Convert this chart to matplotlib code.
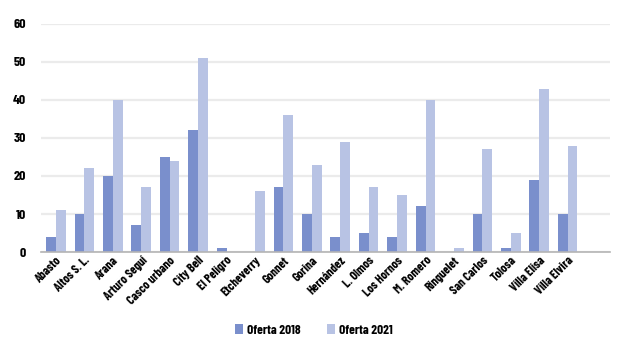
import matplotlib
matplotlib.use("Agg")
import matplotlib.pyplot as plt
import numpy as np

categories = ["Abasto", "Altos S. L.", "Arana", "Arturo Seguí", "Casco urbano", "City Bell",
              "El Peligro", "Etcheverry", "Gonnet", "Gorina", "Hernández", "L. Olmos",
              "Los Hornos", "M. Romero", "Ringuelet", "San Carlos", "Tolosa", "Villa Elisa",
              "Villa Elvira"]
oferta_2018 = [4, 10, 20, 7, 25, 32, 1, 0, 17, 10, 4, 5, 4, 12, 0, 10, 1, 19, 10]
oferta_2021 = [11, 22, 40, 17, 24, 51, 0, 16, 36, 23, 29, 17, 15, 40, 1, 27, 5, 43, 28]
yticks = [0, 10, 20, 30, 40, 50, 60]

plt.rcParams["font.family"] = ["Barlow Condensed", "DejaVu Sans"]
plt.rcParams["font.weight"] = 700

c2018 = "#7a8fcc"
c2021 = "#b8c3e4"

fig = plt.figure(figsize=(6.24, 3.52), dpi=100)
ax = fig.add_axes([0.066, 0.284, 0.912, 0.648])

x = np.arange(len(categories))
w = 0.345
ax.bar(x - w / 2, oferta_2018, width=w, color=c2018, label="Oferta 2018", zorder=3)
ax.bar(x + w / 2, oferta_2021, width=w, color=c2021, label="Oferta 2021", zorder=3)

ax.set_xlim(-0.52, 19.5)
ax.set_ylim(0, 60)
ax.set_yticks(yticks)
ax.set_yticklabels([str(v) for v in yticks], fontsize=10, fontweight=700)
ax.yaxis.grid(True, color="#ebebeb", linewidth=1.6, zorder=0)
ax.set_axisbelow(True)
ax.tick_params(axis="y", length=0, pad=11)
ax.tick_params(axis="x", length=0, pad=2)
ax.set_xticks(x)
ax.set_xticklabels(categories, rotation=45, ha="right", rotation_mode="anchor",
                   fontsize=9, fontweight=700)
for s in ["top", "right", "left"]:
    ax.spines[s].set_visible(False)
ax.spines["bottom"].set_color("#b4b4b4")
ax.spines["bottom"].set_linewidth(1.2)
ax.spines["bottom"].set_zorder(4)

fig.legend(loc="center", bbox_to_anchor=(0.503, 0.063), ncol=2, frameon=False,
           handlelength=0.6, handleheight=0.75, columnspacing=2.0,
           handletextpad=0.3, prop={"family": ["Barlow Condensed"], "weight": 700, "size": 9.5})

fig.savefig("out.png", dpi=100)
